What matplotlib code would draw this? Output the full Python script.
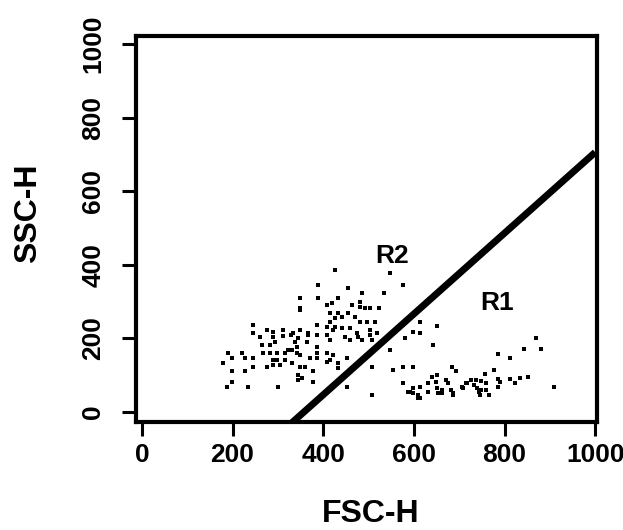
import matplotlib
matplotlib.use("Agg")
import matplotlib.pyplot as plt

plt.rcParams['font.family'] = ['Liberation Sans', 'DejaVu Sans']
plt.rcParams['font.weight'] = 'bold'

# Event data (FSC-H, SSC-H)
fsc = [349, 245, 276, 245, 261, 312, 312, 334, 349, 387, 367, 387, 294, 265, 283,
       338, 343, 365, 387, 323, 332, 190, 221, 267, 283, 298, 290, 298, 290, 305,
       316, 343, 349, 387, 199, 228, 245, 179, 245, 276, 316, 332, 349, 360, 371,
       387, 199, 228, 345, 354, 345, 378, 199, 188, 234, 301, 378, 427, 548, 389,
       455, 577, 486, 533, 349, 389, 433, 409, 420, 464, 482, 482, 349, 493, 504,
       522, 415, 433, 442, 455, 471, 415, 427, 482, 497, 515, 409, 427, 442, 460,
       475, 504, 290, 290, 329, 345, 367, 409, 415, 449, 460, 477, 486, 504, 508,
       422, 599, 581, 519, 614, 643, 548, 409, 422, 409, 415, 433, 433, 453, 508,
       555, 575, 597, 685, 692, 652, 575, 586, 592, 599, 614, 632, 608, 614, 632,
       652, 654, 670, 676, 681, 687, 709, 453, 508, 614, 652, 869, 842, 880, 785,
       813, 776, 756, 736, 747, 758, 718, 785, 791, 813, 824, 833, 851, 785, 749,
       758, 745, 765, 908, 732, 641, 599, 610, 648, 663, 663, 687, 707, 714, 725,
       740, 743]
ssc = [277, 236, 222, 214, 203, 222, 206, 214, 222, 236, 214, 209, 190, 181, 181,
       190, 176, 190, 176, 168, 168, 160, 160, 160, 160, 160, 141, 141, 127, 127,
       160, 160, 154, 160, 146, 146, 146, 132, 122, 122, 141, 132, 122, 122, 146,
       146, 111, 111, 100, 92, 86, 111, 81, 67, 67, 67, 81, 385, 377, 345,
       336, 345, 323, 323, 309, 309, 309, 290, 296, 290, 298, 285, 282, 282, 282,
       282, 268, 268, 258, 268, 258, 244, 255, 244, 244, 244, 230, 230, 228, 228,
       214, 222, 217, 203, 209, 200, 209, 209, 195, 203, 195, 203, 195, 209, 195,
       222, 217, 200, 214, 214, 181, 168, 160, 154, 135, 141, 132, 119, 146, 122,
       113, 122, 122, 122, 111, 100, 78, 54, 54, 64, 67, 78, 37, 37, 54,
       64, 51, 86, 78, 59, 51, 64, 67, 45, 244, 233, 200, 171, 171, 157,
       146, 113, 103, 86, 84, 78, 78, 89, 81, 89, 78, 92, 94, 67, 59,
       59, 45, 45, 67, 73, 94, 51, 45, 81, 59, 51, 45, 67, 78, 86,
       64, 54]

# Gate boundary line
gate_x = [300, 1000]
gate_y = [-64, 706]

# Region labels
region_names = ["R2", "R1"]
region_x = [552, 783]
region_y = [423, 297]

ticks = [0, 200, 400, 600, 800, 1000]

fig = plt.figure(figsize=(6.23, 5.30), dpi=100)
ax = fig.add_axes([0.2183, 0.2038, 0.74, 0.728])

ax.plot(fsc, ssc, linestyle='none', marker='s', markersize=3.0,
        markerfacecolor='black', markeredgewidth=0, color='black')
ax.plot(gate_x, gate_y, color='black', linewidth=5.0, solid_capstyle='butt')

for name, rx, ry in zip(region_names, region_x, region_y):
    ax.text(rx, ry, name, ha='center', va='center', fontsize=19,
            fontweight='bold')

ax.set_xlim(-13, 1004)
ax.set_ylim(-28, 1022)
ax.set_xticks(ticks)
ax.set_yticks(ticks)
ax.set_xticklabels([str(t) for t in ticks])
ax.set_yticklabels([str(t) for t in ticks])

for sp in ax.spines.values():
    sp.set_linewidth(3)
    sp.set_color('black')

ax.tick_params(axis='both', direction='out', length=10, width=2.2,
               labelsize=19, colors='black')
ax.tick_params(axis='x', pad=5)
ax.tick_params(axis='y', pad=12)
for lab in ax.get_yticklabels():
    lab.set_rotation(90)
    lab.set_va('center')
    lab.set_fontweight('bold')
for lab in ax.get_xticklabels():
    lab.set_fontweight('bold')

fig.text(0.5955, 0.03, "FSC-H", ha='center', va='center', fontsize=23,
         fontweight='bold')
fig.text(0.0457, 0.597, "SSC-H", ha='center', va='center', fontsize=23,
         fontweight='bold', rotation=90)

fig.savefig("out.png", dpi=100, facecolor='white')
